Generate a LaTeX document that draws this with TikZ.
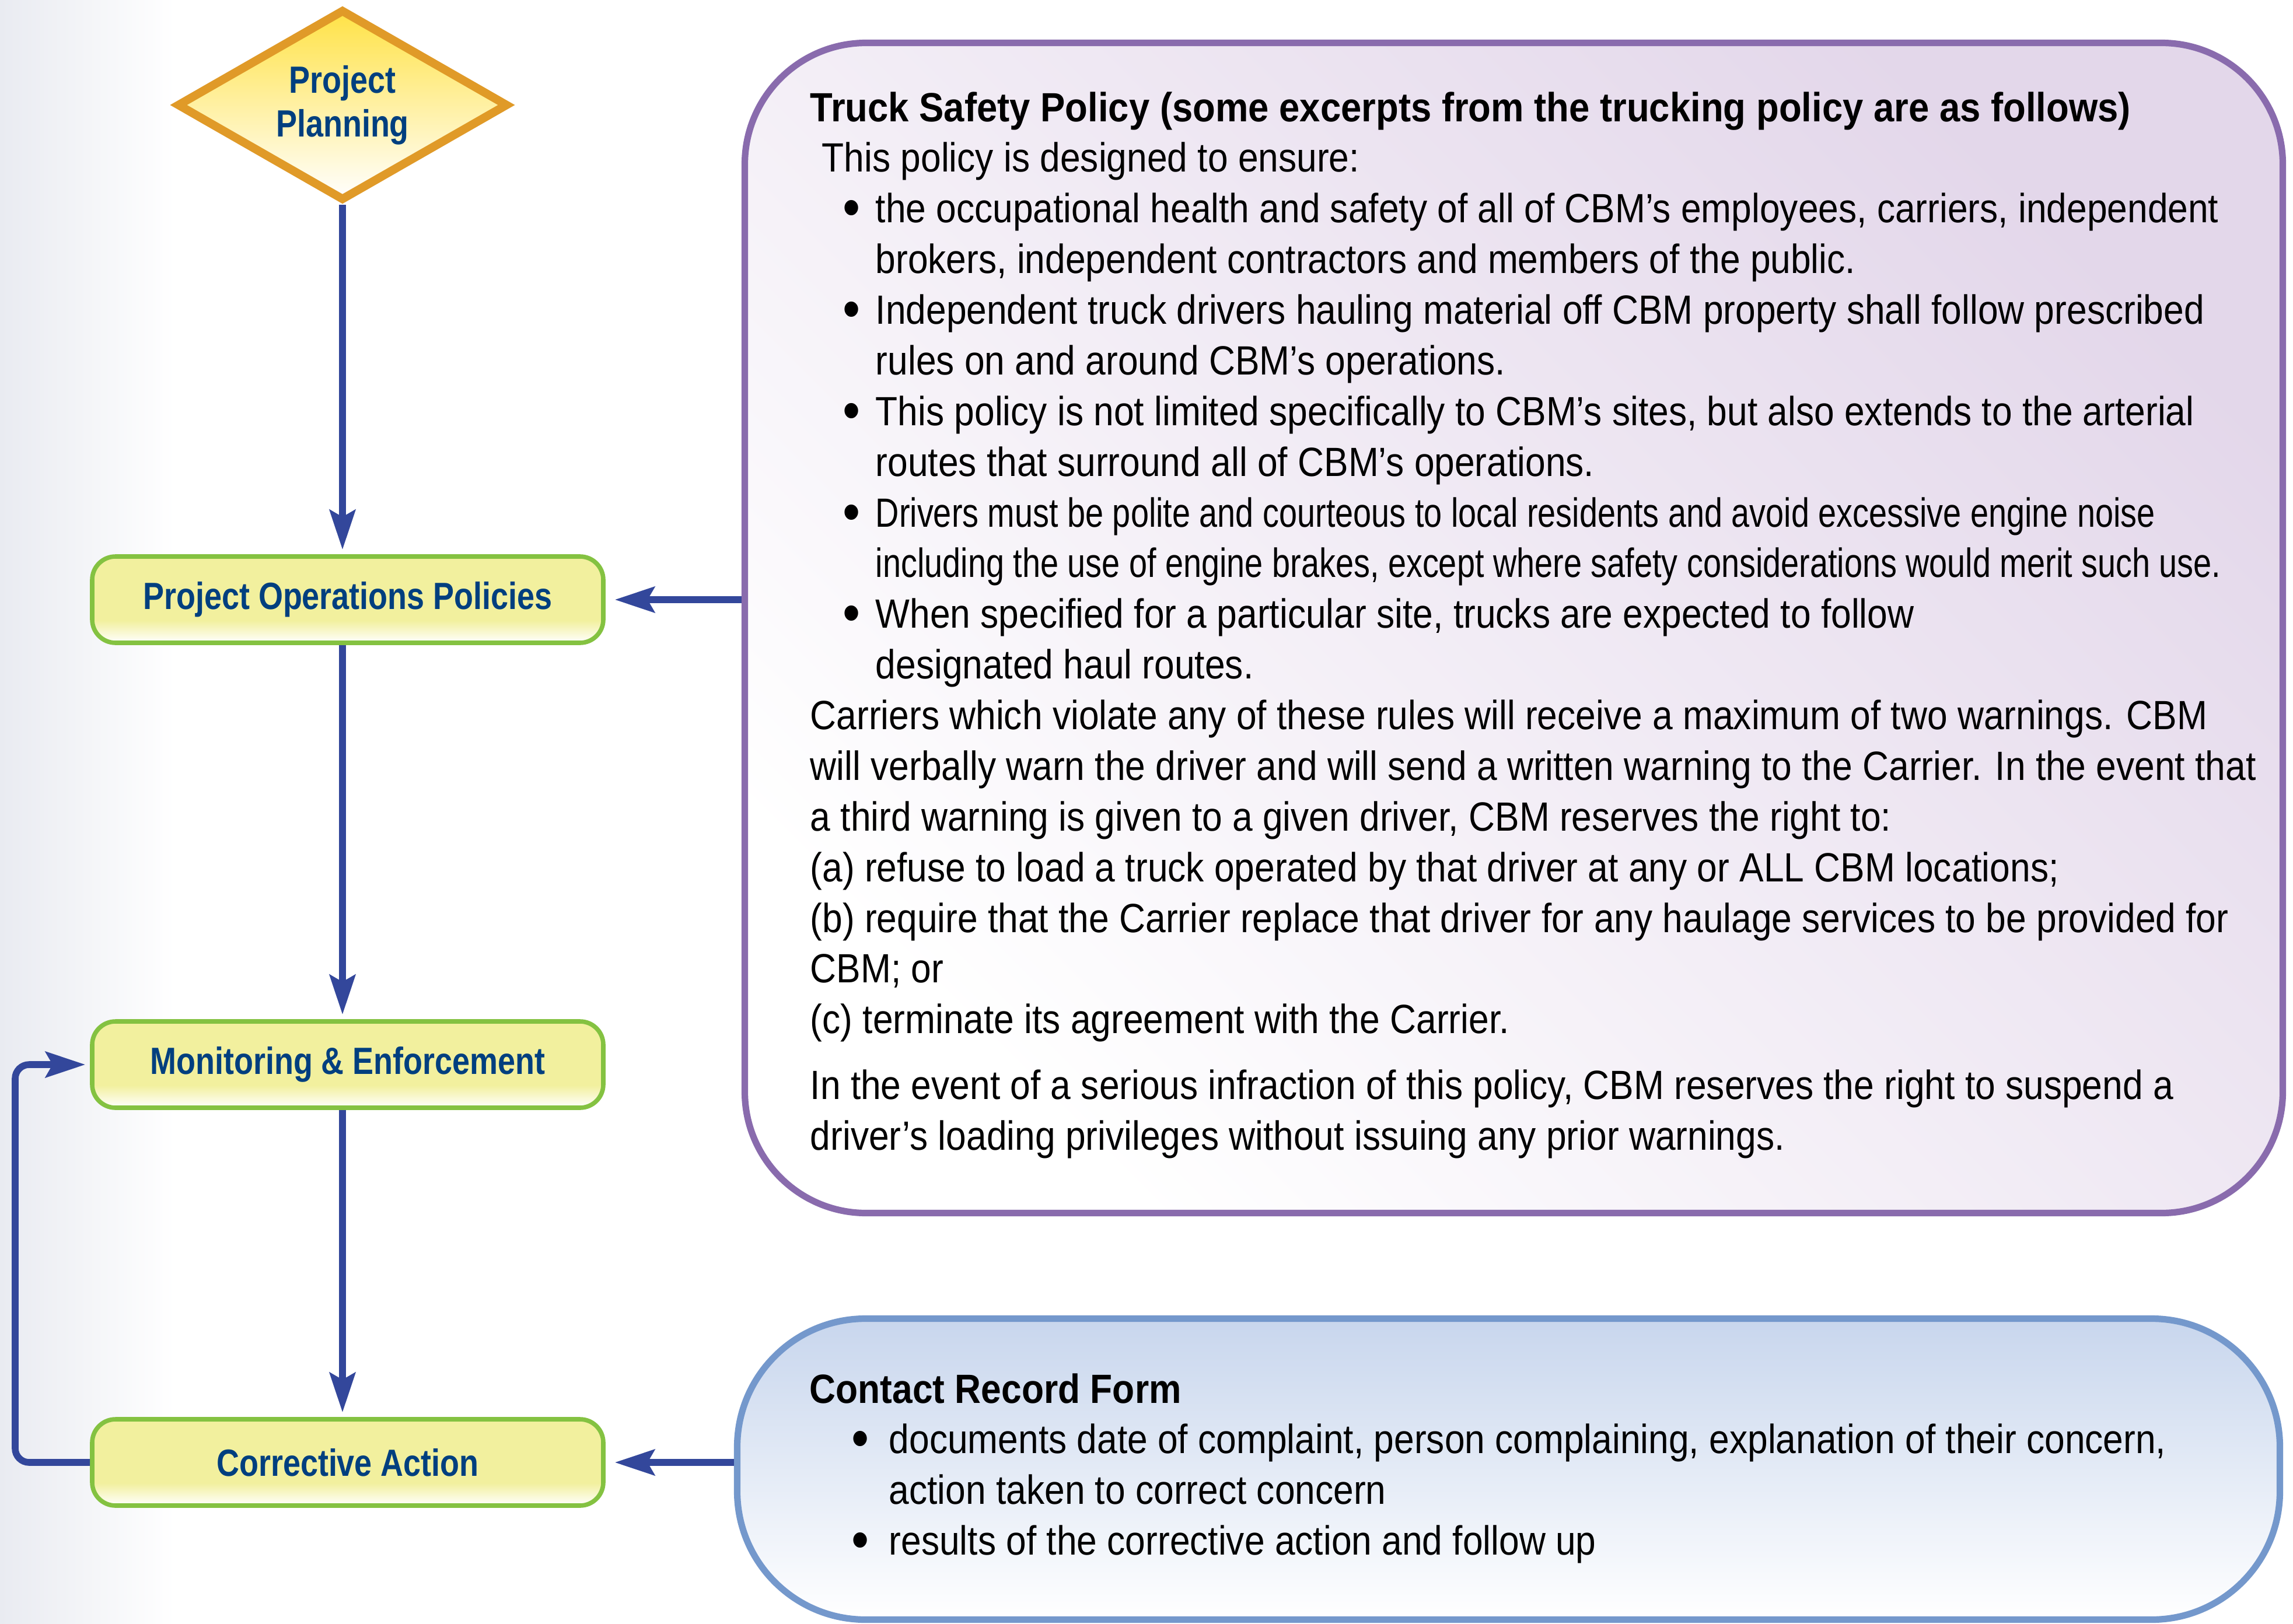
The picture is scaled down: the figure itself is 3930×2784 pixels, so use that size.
\documentclass[tikz,border=0pt]{standalone}
\usepackage{fontspec}
\usepackage{graphicx}
\setmainfont{Liberation Sans}[FakeStretch=0.89]
\newfontfamily\labfont{Liberation Sans}[FakeStretch=0.83]
\usetikzlibrary{arrows.meta,shapes.geometric}
\definecolor{arrowblue}{RGB}{51,71,155}
\definecolor{labelblue}{RGB}{0,63,127}
\definecolor{greenline}{RGB}{132,194,65}
\definecolor{greenfill}{RGB}{242,240,158}
\definecolor{diamondline}{RGB}{224,154,40}
\definecolor{diamondtop}{RGB}{255,226,70}
\definecolor{purpleline}{RGB}{137,107,173}
\definecolor{purplefill}{RGB}{227,215,234}
\definecolor{blueline}{RGB}{116,152,204}
\definecolor{bluefill}{RGB}{200,214,237}
\definecolor{bggrey}{RGB}{233,235,241}
\pgfdeclareverticalshading{gboxshade}{100bp}{color(0bp)=(white); color(25bp)=(white); color(38bp)=(greenfill); color(100bp)=(greenfill)}
\newcommand\bigbul{\raisebox{-0.1em}{\scalebox{1.38}{\textbullet}}}
\newcommand\pb{\hspace*{14pt}\makebox[14pt][l]{\bigbul}}
\newcommand\pc{\hspace*{28pt}}
\newcommand\cbul{\hspace*{18pt}\makebox[16pt][l]{\bigbul}}
\newcommand\ccont{\hspace*{34pt}}
\newcommand\fitline[2]{\resizebox{#1}{\height}{#2}}
\begin{document}
\begin{tikzpicture}[x=0.25pt,y=-0.25pt,
  flow/.style={draw=arrowblue,line width=2.9pt,-{Stealth[length=17pt,width=11pt,inset=3pt]}},
  labeltext/.style={font=\labfont\bfseries\fontsize{16.25}{18.75}\selectfont,text=labelblue},
  stepbox/.style={labeltext,draw=greenline,line width=1.9pt,rounded corners=10pt,shade,shading=gboxshade,minimum width=219pt,minimum height=37pt,inner sep=0pt},
  decision/.style={labeltext,shape=diamond,aspect=1.75,draw=diamondline,line width=3.6pt,top color=diamondtop,bottom color=white,minimum width=142pt,minimum height=82pt,inner sep=0pt,align=center},
  infobox/.style={rounded corners=52pt,line width=2.8pt,inner sep=0pt},
  bodytext/.style={anchor=base west,inner sep=0pt,font=\fontsize{17.5}{21.72}\selectfont}
]
\useasboundingbox (0,0) rectangle (3930,2784);
\fill[white] (0,0) rectangle (3930,2784);
\shade[left color=bggrey,right color=white] (0,0) rectangle (300,2784);

% flow nodes
\node[decision] (d) at (587,180) {Project\\Planning};
\node[stepbox] (b1) at (596,1028) {Project Operations Policies};
\node[stepbox] (b2) at (596,1825) {Monitoring \& Enforcement};
\node[stepbox] (b3) at (596,2507) {Corrective Action};

% info boxes
\node[infobox,draw=purpleline,top color=purplefill,bottom color=white,shading angle=-45,minimum width=659pt,minimum height=501.5pt] (pol) at (2594.5,1076.5) {};
\node[infobox,rounded corners=55pt,draw=blueline,top color=bluefill,bottom color=white,minimum width=661pt,minimum height=129pt] (crf) at (2585.5,2518.5) {};

\node[bodytext] (poltext) at (1388,208) {\begin{minipage}[t]{720pt}\raggedright\fontsize{17.5}{21.72}\selectfont
\fitline{565.8pt}{\bfseries Truck Safety Policy (some excerpts from the trucking policy are as follows)}\\
\hspace*{5pt}This policy is designed to ensure:\\
\pb the occupational health and safety of all of CBM’s employees, carriers, independent\\
\pc brokers, independent contractors and members of the public.\\
\pb Independent truck drivers hauling material off CBM property shall follow prescribed\\
\pc rules on and around CBM’s operations.\\
\pb This policy is not limited specifically to CBM’s sites, but also extends to the arterial\\
\pc routes that surround all of CBM’s operations.\\
\pb \fitline{548.3pt}{Drivers must be polite and courteous to local residents and avoid excessive engine noise}\\
\pc \fitline{576.5pt}{including the use of engine brakes, except where safety considerations would merit such use.}\\
\pb When specified for a particular site, trucks are expected to follow\\
\pc designated haul routes.\\
Carriers which violate any of these rules will receive a maximum of two warnings. CBM\\
will verbally warn the driver and will send a written warning to the Carrier. In the event that\\
a third warning is given to a given driver, CBM reserves the right to:\\
(a) refuse to load a truck operated by that driver at any or ALL CBM locations;\\
(b) require that the Carrier replace that driver for any haulage services to be provided for\\
CBM; or\\
(c) terminate its agreement with the Carrier.\\[6.5pt]
In the event of a serious infraction of this policy, CBM reserves the right to suspend a\\
driver’s loading privileges without issuing any prior warnings.
\end{minipage}};

\node[bodytext] (crftext) at (1387,2405) {\begin{minipage}[t]{720pt}\raggedright\fontsize{17.5}{21.72}\selectfont
{\bfseries Contact Record Form}\\
\cbul documents date of complaint, person complaining, explanation of their concern,\\
\ccont action taken to correct concern\\
\cbul results of the corrective action and follow up
\end{minipage}};

% connectors
\draw[flow,shorten >=2pt] (d.south) -- (d.south |- b1.north);
\draw[flow,shorten >=2pt] (b1.south -| d.south) -- (b2.north -| d.south);
\draw[flow,shorten >=2pt] (b2.south -| d.south) -- (b3.north -| d.south);
\draw[flow,shorten >=4pt] (pol.west |- b1.east) -- (b1.east);
\draw[flow,shorten >=4pt] (crf.west |- b3.east) -- (b3.east);
\coordinate (lx) at (26,2200);
\draw[flow,rounded corners=6pt,shorten >=2pt] (b3.west) -- (b3.west -| lx) -- (b2.west -| lx) -- (b2.west);
\end{tikzpicture}
\end{document}
